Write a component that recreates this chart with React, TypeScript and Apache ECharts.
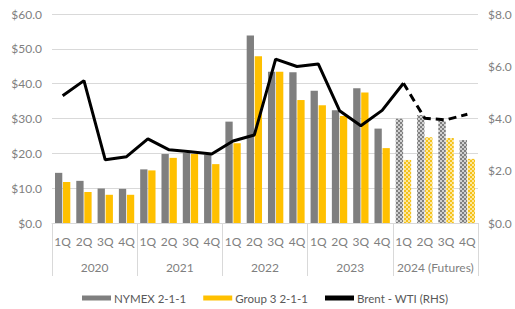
import React, { useEffect, useRef } from "react";
import * as echarts from "echarts";

const quarters = ["1Q", "2Q", "3Q", "4Q", "1Q", "2Q", "3Q", "4Q", "1Q", "2Q", "3Q", "4Q", "1Q", "2Q", "3Q", "4Q", "1Q", "2Q", "3Q", "4Q"];
const years = ["2020", "2021", "2022", "2023", "2024 (Futures)"];
const nymex = [14.4, 12.1, 9.9, 9.8, 15.4, 19.8, 20.1, 19.6, 29.1, 53.8, 43.4, 43.3, 38.0, 32.4, 38.7, 27.1, 29.9, 31.0, 29.3, 23.8];
const group3 = [11.8, 8.9, 8.1, 8.1, 15.1, 18.7, 19.8, 16.9, 22.9, 47.9, 43.4, 35.3, 33.8, 30.7, 37.5, 21.5, 18.1, 24.6, 24.4, 18.4];
const brentWti = [4.87, 5.45, 2.42, 2.54, 3.22, 2.8, 2.73, 2.64, 3.14, 3.37, 6.27, 5.99, 6.09, 4.3, 3.72, 4.31, 5.35, 4.01, 3.95, 4.16];
const futuresStart = 16;

const FONT = "Lato";
const TXT = "#7f7f7f";
const LEG = "#595959";
const GRID = "#d9d9d9";

export default function App() {
  const ref = useRef<HTMLDivElement>(null);
  useEffect(() => {
    if (!ref.current) return;
    const chart = echarts.init(ref.current, null, { renderer: "svg" });
    const barData = (vals: number[], color: string, light: string, dot: string) =>
      vals.map((v, i) =>
        i >= futuresStart
          ? {
              value: v,
              itemStyle: {
                color: light,
                decal: {
                  symbol: "rect",
                  symbolSize: 1,
                  color: dot,
                  backgroundColor: light,
                  dashArrayX: [[2, 2], [0, 2, 2, 0]],
                  dashArrayY: [2, 0],
                },
              },
            }
          : { value: v, itemStyle: { color } }
      );
    const solid = brentWti.map((v, i) => (i <= futuresStart ? v : null));
    const dashed = brentWti.map((v, i) => (i >= futuresStart ? v : null));
    chart.setOption({
      animation: false,
      textStyle: { fontFamily: FONT },
      grid: { left: 52, right: 37, top: 14, bottom: 86 },
      legend: {
        data: [
          { name: "NYMEX 2-1-1", icon: "rect" },
          { name: "Group 3 2-1-1", icon: "rect" },
          { name: "Brent - WTI (RHS)", icon: "rect" },
        ],
        left: 77,
        top: 287,
        itemWidth: 29,
        itemHeight: 5,
        itemGap: 17,
        textStyle: { color: LEG, fontSize: 11.5, fontFamily: FONT, padding: [0, 0, 0, -2] },
      },
      xAxis: [
        {
          type: "category",
          data: quarters,
          position: "bottom",
          axisLine: { show: true, onZero: false, lineStyle: { color: GRID, width: 1 } },
          axisTick: { show: false },
          axisLabel: { color: TXT, fontSize: 12, margin: 12, fontFamily: FONT, interval: 0 },
        },
        {
          type: "category",
          data: years,
          position: "bottom",
          boundaryGap: true,
          axisLine: { show: false, onZero: false },
          axisTick: { show: true, length: 53, lineStyle: { color: GRID, width: 1 } },
          axisLabel: { color: TXT, fontSize: 12, margin: 38, fontFamily: FONT, interval: 0 },
          splitLine: { show: false },
        },
      ],
      yAxis: [
        {
          type: "value",
          min: 0,
          max: 60,
          interval: 10,
          axisLine: { show: false },
          axisTick: { show: false },
          splitLine: { lineStyle: { color: GRID, width: 1 } },
          axisLabel: { color: TXT, fontSize: 12, margin: 10, fontFamily: FONT, formatter: (v: number) => "$" + v.toFixed(1) },
        },
        {
          type: "value",
          min: 0,
          max: 8,
          interval: 2,
          position: "right",
          axisLine: { show: false },
          axisTick: { show: false },
          splitLine: { show: false },
          axisLabel: { color: TXT, fontSize: 12, margin: 10, fontFamily: FONT, formatter: (v: number) => "$" + v.toFixed(1) },
        },
      ],
      series: [
        {
          name: "NYMEX 2-1-1",
          type: "bar",
          xAxisIndex: 0,
          yAxisIndex: 0,
          data: barData(nymex, "#7f7f7f", "#d0d0d0", "#7f7f7f"),
          itemStyle: { color: "#7f7f7f" },
          barCategoryGap: "28%",
          barGap: "10%",
        },
        {
          name: "Group 3 2-1-1",
          type: "bar",
          xAxisIndex: 0,
          yAxisIndex: 0,
          data: barData(group3, "#ffc000", "#fbe7a0", "#f5c21a"),
          itemStyle: { color: "#ffc000" },
          barCategoryGap: "28%",
          barGap: "10%",
        },
        {
          name: "Brent - WTI (RHS)",
          type: "line",
          xAxisIndex: 0,
          yAxisIndex: 1,
          data: solid,
          showSymbol: false,
          symbol: "none",
          itemStyle: { color: "#000000" },
          lineStyle: { color: "#000000", width: 3 },
        },
        {
          name: "Brent - WTI (Futures)",
          type: "line",
          xAxisIndex: 0,
          yAxisIndex: 1,
          data: dashed,
          showSymbol: false,
          symbol: "none",
          itemStyle: { color: "#000000" },
          lineStyle: { color: "#000000", width: 3, type: [8, 5] },
        },
      ],
    });
    return () => chart.dispose();
  }, []);
  return <div ref={ref} style={{ width: 515, height: 309, position: "absolute", left: 0, top: 0 }} />;
}
